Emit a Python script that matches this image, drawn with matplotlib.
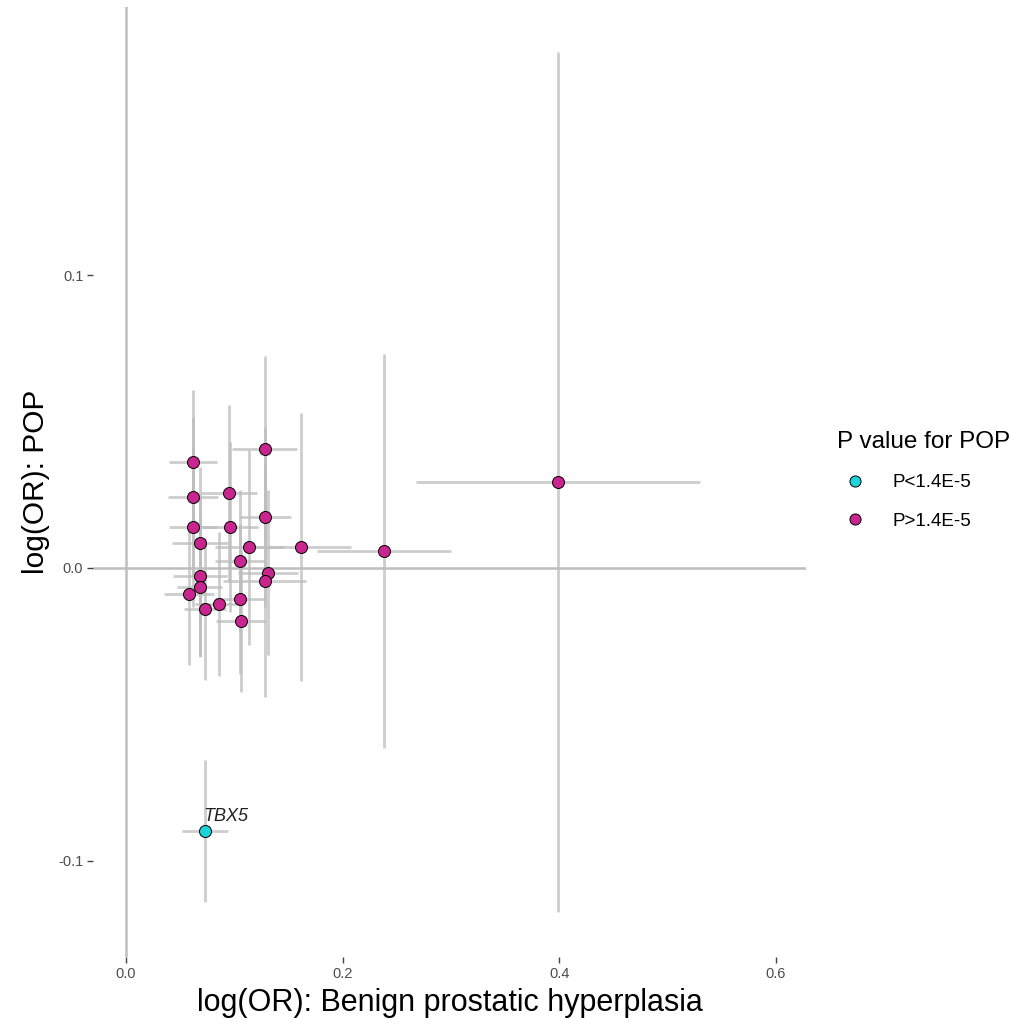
import numpy as np
import matplotlib.pyplot as plt
from matplotlib.lines import Line2D

plt.rcParams['font.family'] = ['Liberation Sans', 'DejaVu Sans']

# log(OR) for BPH (x) and POP (y), with half-widths of the 95% CI
bph = [0.062, 0.128, 0.062, 0.095, 0.062, 0.096, 0.128, 0.068, 0.114, 0.162,
       0.105, 0.131, 0.068, 0.128, 0.068, 0.058, 0.086, 0.105, 0.073, 0.106,
       0.238, 0.399, 0.073]
pop = [0.0361, 0.0406, 0.0243, 0.0255, 0.0141, 0.0141, 0.0173, 0.0084, 0.0070, 0.0072,
       0.0024, -0.0016, -0.0027, -0.0044, -0.0066, -0.0089, -0.0124, -0.0106, -0.0141, -0.0180,
       0.0058, 0.0294, -0.0898]
bph_ci = [0.022, 0.030, 0.023, 0.026, 0.022, 0.026, 0.024, 0.026, 0.032, 0.046,
          0.023, 0.028, 0.025, 0.038, 0.021, 0.023, 0.022, 0.023, 0.019, 0.023,
          0.062, 0.131, 0.021]
pop_ci = [0.0246, 0.0317, 0.0273, 0.0300, 0.0273, 0.0290, 0.0307, 0.0261, 0.0334, 0.0458,
          0.0242, 0.0281, 0.0276, 0.0396, 0.0236, 0.0242, 0.0246, 0.0256, 0.0242, 0.0242,
          0.0674, 0.1468, 0.0242]
signif = [False] * 22 + [True]
genes = [''] * 22 + ['TBX5']

col_sig = '#1DD3DB'
col_ns = '#C8258E'

bph = np.array(bph)
pop = np.array(pop)
signif = np.array(signif)

fig = plt.figure(figsize=(10.22, 10.26), dpi=100)
ax = fig.add_axes([93/1022, 69/1026, 713/1022, 950/1026])

ax.axhline(0, color='#BEBEBE', lw=1.8, zorder=1)
ax.axvline(0, color='#BEBEBE', lw=1.8, zorder=1)

ax.errorbar(bph, pop, xerr=bph_ci, yerr=pop_ci, fmt='none',
            ecolor='#BDBDBD', elinewidth=2.0, alpha=0.75, capsize=0, zorder=2)

ax.scatter(bph[~signif], pop[~signif], s=75, c=col_ns, edgecolors='black',
           linewidths=0.7, zorder=3)
ax.scatter(bph[signif], pop[signif], s=75, c=col_sig, edgecolors='black',
           linewidths=0.7, zorder=3)

for xi, yi, g in zip(bph, pop, genes):
    if g:
        ax.text(xi - 0.002, yi + 0.0022, g, fontsize=13, style='italic',
                color='#222222', ha='left', va='bottom', zorder=4)

ax.set_xlim(-0.0305, 0.628)
ax.set_ylim(-0.1328, 0.1915)
ax.set_xticks([0.0, 0.2, 0.4, 0.6])
ax.set_xticklabels(['0.0', '0.2', '0.4', '0.6'])
ax.set_yticks([-0.1, 0.0, 0.1])
ax.set_yticklabels(['-0.1', '0.0', '0.1'])
for s in ax.spines.values():
    s.set_visible(False)
ax.tick_params(axis='both', length=4, width=1, color='#444444',
               labelcolor='#4D4D4D', labelsize=10.5, pad=3)

ax.set_xlabel('log(OR): Benign prostatic hyperplasia', fontsize=22, color='black', labelpad=5)
ax.set_ylabel('log(OR): POP', fontsize=21.5, color='black', labelpad=6)

handles = [Line2D([], [], marker='o', ls='none', markersize=8, markerfacecolor=col_sig,
                  markeredgecolor='black', markeredgewidth=0.7),
           Line2D([], [], marker='o', ls='none', markersize=8, markerfacecolor=col_ns,
                  markeredgecolor='black', markeredgewidth=0.7)]
leg = fig.legend(handles, ['P<1.4E-5', 'P>1.4E-5'], title='P value for POP',
                 loc='upper left', bbox_to_anchor=(829/1022, 1 - 423/1026),
                 frameon=False, fontsize=13.5, title_fontsize=17.5,
                 alignment='left', handletextpad=1.0, labelspacing=1.15,
                 borderaxespad=0)

fig.savefig('out.png', dpi=100)
